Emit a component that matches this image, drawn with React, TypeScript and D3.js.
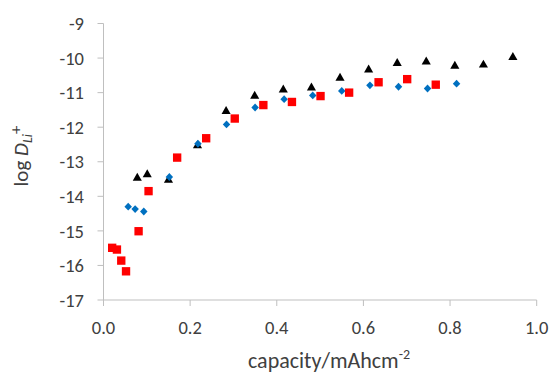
import React from "react";
import * as d3 from "d3";

const triX = [0.078, 0.101, 0.150, 0.217, 0.283, 0.349, 0.415, 0.480, 0.546, 0.612, 0.678, 0.745, 0.811, 0.877, 0.945];
const triY = [-13.47, -13.37, -13.53, -12.53, -11.54, -11.10, -10.92, -10.86, -10.58, -10.34, -10.15, -10.11, -10.23, -10.20, -9.98];

const diaX = [0.057, 0.073, 0.093, 0.152, 0.218, 0.284, 0.350, 0.417, 0.483, 0.550, 0.615, 0.681, 0.748, 0.815];
const diaY = [-14.30, -14.37, -14.44, -13.44, -12.48, -11.92, -11.43, -11.19, -11.08, -10.95, -10.79, -10.83, -10.88, -10.74];

const sqX = [0.020, 0.031, 0.041, 0.052, 0.081, 0.104, 0.170, 0.237, 0.303, 0.369, 0.435, 0.501, 0.567, 0.635, 0.701, 0.767];
const sqY = [-15.49, -15.54, -15.86, -16.17, -15.01, -13.85, -12.88, -12.32, -11.75, -11.36, -11.27, -11.10, -11.00, -10.70, -10.61, -10.77];

const xTicks = [0, 0.2, 0.4, 0.6, 0.8, 1.0];
const yTicks = [-9, -10, -11, -12, -13, -14, -15, -16, -17];

const W = 551;
const H = 373;
const FONT = "Carlito, Calibri, Lato, sans-serif";
const AXIS = "#BFBFBF";
const TXT = "#404040";

const wideDiamond = {
  draw(ctx: any, size: number) {
    const r = Math.sqrt(size / 2);
    ctx.moveTo(0, -r * 1.05);
    ctx.lineTo(r, 0);
    ctx.lineTo(0, r * 1.05);
    ctx.lineTo(-r, 0);
    ctx.closePath();
  },
};

export default function App() {
  const x = d3.scaleLinear().domain([0, 1]).range([103.5, 536.7]);
  const y = d3.scaleLinear().domain([-17, -9]).range([300, 23.5]);

  const tri = d3.symbol().type(d3.symbolTriangle).size(36);
  const dia = d3.symbol().type(wideDiamond as any).size(28);
  const sq = d3.symbol().type(d3.symbolSquare).size(70);

  return (
    <svg width={W} height={H} style={{ position: "absolute", left: 0, top: 0 }} fontFamily={FONT}>
      <rect width={W} height={H} fill="#fff" />
      <line x1={x(0)} x2={x(0)} y1={y(-9)} y2={y(-17)} stroke={AXIS} strokeWidth={1} />
      <line x1={x(0)} x2={x(1)} y1={y(-17)} y2={y(-17)} stroke={AXIS} strokeWidth={1} />
      {yTicks.map((t) => (
        <g key={"y" + t}>
          <line x1={x(0) - 6} x2={x(0)} y1={y(t)} y2={y(t)} stroke={AXIS} />
          <text x={84} y={y(t)} dy="0.36em" textAnchor="end" fontSize={18.5} fill={TXT}>
            {t}
          </text>
        </g>
      ))}
      {xTicks.map((t) => (
        <g key={"x" + t}>
          <line x1={x(t)} x2={x(t)} y1={y(-17)} y2={y(-17) + 6} stroke={AXIS} />
          <text x={x(t)} y={333.5} textAnchor="middle" fontSize={18.5} fill={TXT}>
            {t.toFixed(1)}
          </text>
        </g>
      ))}
      {triX.map((v, i) => (
        <path key={"t" + i} d={tri()!} transform={`translate(${x(v)},${y(triY[i])})`} fill="#000" />
      ))}
      {diaX.map((v, i) => (
        <path key={"d" + i} d={dia()!} transform={`translate(${x(v)},${y(diaY[i])})`} fill="#0070C0" />
      ))}
      {sqX.map((v, i) => (
        <path key={"s" + i} d={sq()!} transform={`translate(${x(v)},${y(sqY[i])})`} fill="#FF0000" />
      ))}
      <text x={329} y={367.5} textAnchor="middle" fontSize={22} fill={TXT}>
        capacity/mAhcm
        <tspan fontSize={14} dy={-9}>-2</tspan>
      </text>
      <text transform={`translate(28,156) rotate(-90)`} textAnchor="middle" fontSize={21} fill={TXT}>
        log <tspan fontStyle="italic">D</tspan>
        <tspan fontStyle="italic" fontSize={14} dy={4}>Li</tspan>
        <tspan fontSize={17} dy={-11}>+</tspan>
      </text>
    </svg>
  );
}
